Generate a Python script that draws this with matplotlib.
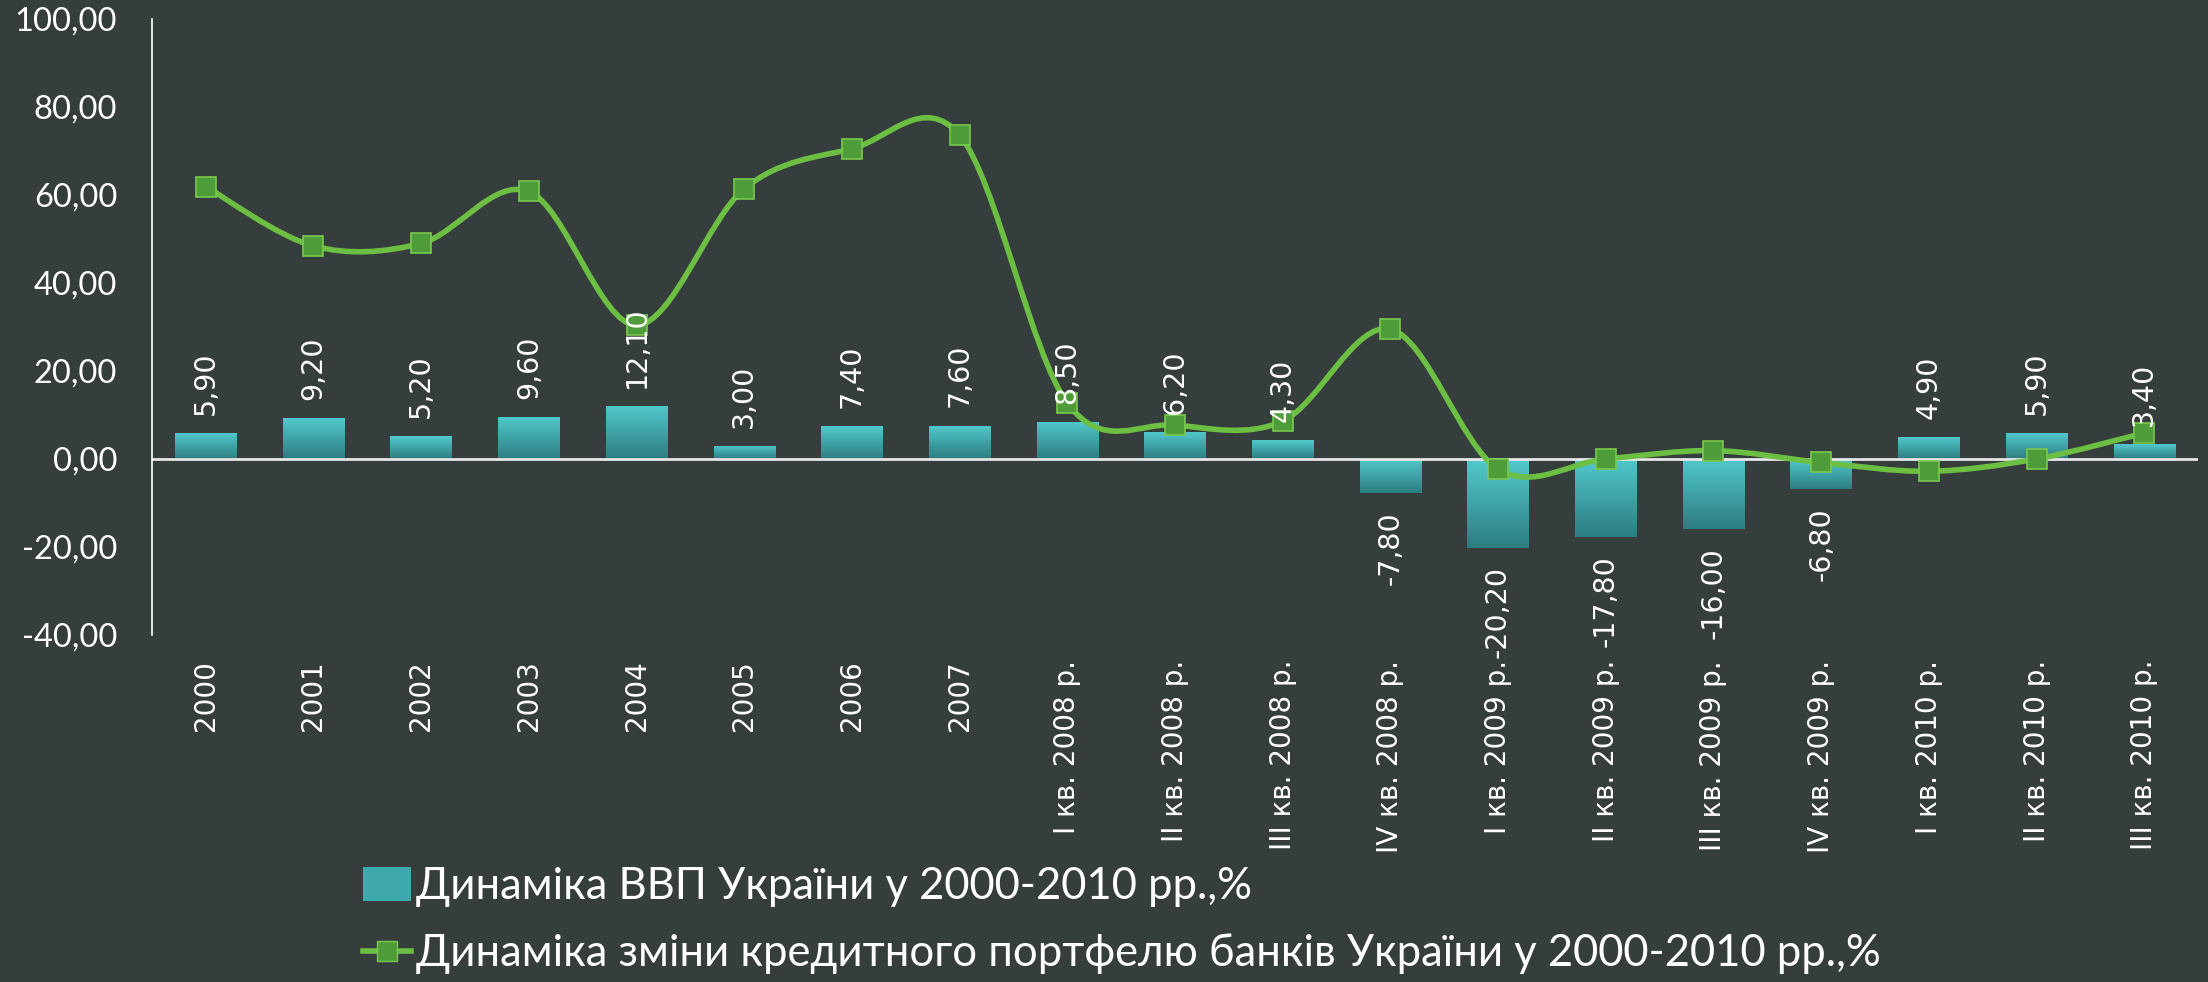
import numpy as np
import matplotlib
matplotlib.use("Agg")
import matplotlib.pyplot as plt
from matplotlib.path import Path
from matplotlib.patches import PathPatch, Patch
from matplotlib.lines import Line2D
from matplotlib.colors import LinearSegmentedColormap

categories = ["2000", "2001", "2002", "2003", "2004", "2005", "2006", "2007",
              "I кв. 2008 р.", "II кв. 2008 р.", "III кв. 2008 р.", "IV кв. 2008 р.",
              "I кв. 2009 р.", "II кв. 2009 р.", "III кв. 2009 р.", "IV кв. 2009 р.",
              "I кв. 2010 р.", "II кв. 2010 р.", "III кв. 2010 р."]
gdp = [5.9, 9.2, 5.2, 9.6, 12.1, 3.0, 7.4, 7.6, 8.5, 6.2, 4.3, -7.8,
       -20.2, -17.8, -16.0, -6.8, 4.9, 5.9, 3.4]
credit = [61.9, 48.4, 49.0, 60.8, 30.4, 61.4, 70.5, 73.6, 12.7, 7.7, 8.6, 29.5,
          -2.3, 0.0, 1.9, -0.8, -2.8, 0.0, 5.9]
yticks = [-40, -20, 0, 20, 40, 60, 80, 100]
legend_labels = ["Динаміка ВВП України у 2000-2010 рр.,%",
                 "Динаміка зміни кредитного портфелю банків України у 2000-2010 рр.,%"]

BG = "#363d3d"
GREEN = "#6cbf42"
fig = plt.figure(figsize=(22.08, 9.82), dpi=100)
fig.patch.set_facecolor(BG)
ax = fig.add_axes([0.0688, 0.3534, 0.9267, 0.6273])
ax.set_facecolor(BG)

x = np.arange(len(categories))
bars = ax.bar(x, gdp, width=0.57, color="#3fa9ad", zorder=2)
cmap = LinearSegmentedColormap.from_list("g", ["#52c9cd", "#2d7d80"])
grad = np.linspace(0, 1, 256).reshape(-1, 1)
for b, v in zip(bars, gdp):
    x0, w = b.get_x(), b.get_width()
    im = ax.imshow(grad, extent=[x0, x0 + w, min(0, v), max(0, v)], origin="upper",
                   cmap=cmap, aspect="auto", zorder=2.1)
    im.set_clip_path(b)

ax.axhline(0, color="#e6e6e6", lw=2, zorder=2.5)

# smooth line (Catmull-Rom -> Bezier, like spreadsheet smoothing)
pts = np.column_stack([x, credit]).astype(float)
n = len(pts)
verts = [pts[0]]
codes = [Path.MOVETO]
for i in range(n - 1):
    p0 = pts[i - 1] if i > 0 else pts[i]
    p1, p2 = pts[i], pts[i + 1]
    p3 = pts[i + 2] if i + 2 < n else pts[i + 1]
    c1 = p1 + (p2 - p0) / 6.0
    c2 = p2 - (p3 - p1) / 6.0
    verts += [c1, c2, p2]
    codes += [Path.CURVE4] * 3
ax.add_patch(PathPatch(Path(verts, codes), fill=False, edgecolor=GREEN, lw=4,
                       zorder=3, capstyle="round", joinstyle="round"))
ax.plot(x, credit, linestyle="none", marker="s", ms=14, mfc="#4f9c3b",
        mec="#78c94f", mew=1.2, zorder=4)

# data labels
for xi, v in zip(x, gdp):
    txt = f"{v:.2f}".replace(".", ",")
    ax.annotate(txt, (xi, v), xytext=(0, 13 if v >= 0 else -13), textcoords="offset points",
                rotation=90, ha="center", va="bottom" if v >= 0 else "top",
                color="white", fontsize=20.5, family="DejaVu Sans", zorder=5)

ax.set_xlim(-0.5, len(categories) - 0.5)
ax.set_ylim(-40, 100)
ax.set_yticks(yticks)
ax.set_yticklabels([f"{t:.2f}".replace(".", ",") for t in yticks],
                   family=["Lato", "DejaVu Sans"], fontsize=23.5, color="white")
ax.set_xticks(x)
ax.set_xticklabels(categories, rotation=90, fontsize=20, family="DejaVu Sans", color="white")
ax.tick_params(axis="both", length=0)
ax.tick_params(axis="y", pad=25)
ax.tick_params(axis="x", pad=18)
for s in ["top", "right", "bottom"]:
    ax.spines[s].set_visible(False)
ax.spines["left"].set_color("white")
ax.spines["left"].set_linewidth(1.2)

h1 = Patch(facecolor="#3fa9ad", edgecolor="none")
h2 = Line2D([], [], color=GREEN, lw=4, marker="s", ms=14, mfc="#4f9c3b", mec="#78c94f")
leg = fig.legend([h1, h2], legend_labels, loc="upper left", bbox_to_anchor=(0.1545, 0.14),
                 frameon=False, prop={"family": ["Lato", "DejaVu Sans"], "size": 31.4},
                 handlelength=1.1, handleheight=0.8, handletextpad=0.12,
                 labelspacing=0.6, borderpad=0)
for t in leg.get_texts():
    t.set_color("white")

fig.savefig("out.png", dpi=100, facecolor=BG)
